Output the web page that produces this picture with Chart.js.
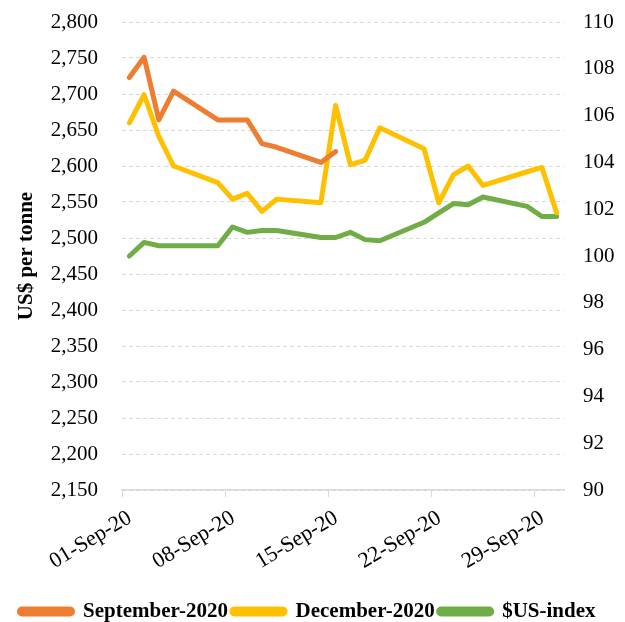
<!DOCTYPE html>
<html>
<head>
<meta charset="utf-8">
<script src="https://cdn.jsdelivr.net/npm/chart.js@4"></script>
<style>
  html, body { margin: 0; padding: 0; background: #fff; }
  #wrap { width: 625px; height: 622px; }
</style>
</head>
<body>
<div id="wrap"><canvas id="chart"></canvas></div>
<script>
// trading days in September 2020
const days = [1, 2, 3, 4, 7, 8, 9, 10, 11, 14, 15, 16, 17, 18, 21, 22, 23, 24, 25, 28, 29, 30];

// US$ per tonne (left axis)
const sep2020 = [2723, 2751, 2664, 2704, 2664, 2664, 2664, 2631, 2626, 2605, 2620,
  null, null, null, null, null, null, null, null, null, null, null];
const dec2020 = [2660, 2699, 2641, 2600, 2577, 2554, 2562, 2537, 2554, 2549, 2684,
  2602, 2608, 2653, 2624, 2549, 2588, 2600, 2573, 2592, 2598, 2535];

// $US-index (right axis)
const usIndex = [100.0, 100.58, 100.44, 100.44, 100.44, 101.24, 101.01, 101.09, 101.09, 100.79, 100.79,
  101.01, 100.70, 100.65, 101.44, 101.84, 102.24, 102.19, 102.52, 102.12, 101.69, 101.69];

const tickDays = [1, 8, 15, 22, 29];
const tickLabels = ["01-Sep-20", "08-Sep-20", "15-Sep-20", "22-Sep-20", "29-Sep-20"];

const serif = "'Liberation Serif', 'Times New Roman', serif";
const gridGrey = "#d9d9d9";

const pts = vals => days.map((d, i) => ({ x: d, y: vals[i] }));

function serie(label, vals, color, axis) {
  return {
    label: label,
    data: pts(vals),
    borderColor: color,
    backgroundColor: color,
    borderWidth: 5,
    borderCapStyle: "round",
    borderJoinStyle: "round",
    pointRadius: 0,
    tension: 0,
    yAxisID: axis
  };
}

// fixed box sizes so the plot area lands where the original one is
function fitY(w) {
  return scale => {
    scale.width = w;
    scale.paddingTop = 22;
    scale.paddingBottom = 0;
  };
}

new Chart(document.getElementById("chart"), {
  type: "line",
  data: {
    datasets: [
      serie("September-2020", sep2020, "#ED7D31", "y"),
      serie("December-2020", dec2020, "#FFC000", "y"),
      serie("$US-index", usIndex, "#70AD47", "y2")
    ]
  },
  options: {
    responsive: true,
    maintainAspectRatio: false,
    animation: false,
    layout: { padding: { left: 0, top: 0, right: 10, bottom: -10 } },
    plugins: {
      tooltip: { enabled: false },
      legend: {
        position: "bottom",
        labels: {
          boxWidth: 53,
          boxHeight: 5,
          useBorderRadius: true,
          borderRadius: 2.5,
          padding: 4,
          color: "#000",
          font: { family: serif, size: 21, weight: "bold" }
        }
      }
    },
    scales: {
      x: {
        type: "linear",
        min: 0.5,
        max: 30.5,
        afterBuildTicks: axis => { axis.ticks = tickDays.map(d => ({ value: d - 0.5 })); },
        afterFit: scale => { scale.height = 107; },
        grid: { drawOnChartArea: false, drawTicks: true, tickLength: 7, tickColor: gridGrey, color: gridGrey },
        border: { display: true, color: gridGrey, width: 1.5 },
        ticks: {
          minRotation: 31,
          maxRotation: 31,
          labelOffset: 8,
          padding: 8,
          color: "#000",
          font: { family: serif, size: 22 },
          callback: (v, i) => tickLabels[i]
        }
      },
      y: {
        position: "left",
        min: 2150,
        max: 2800,
        afterFit: fitY(122),
        ticks: {
          stepSize: 50,
          padding: 24,
          color: "#000",
          font: { family: serif, size: 21 },
          callback: v => v.toLocaleString("en-US")
        },
        grid: { color: gridGrey, lineWidth: 1, drawTicks: false },
        border: { display: false, dash: [4, 3] },
        title: {
          display: true,
          text: "US$ per tonne",
          color: "#000",
          font: { family: serif, size: 21, weight: "bold" },
          padding: { top: 14, bottom: 4 }
        }
      },
      y2: {
        position: "right",
        min: 90,
        max: 110,
        afterFit: fitY(51),
        ticks: {
          stepSize: 2,
          padding: 19,
          color: "#000",
          font: { family: serif, size: 21 }
        },
        grid: { drawOnChartArea: false, drawTicks: false },
        border: { display: false }
      }
    }
  }
});
</script>
</body>
</html>
